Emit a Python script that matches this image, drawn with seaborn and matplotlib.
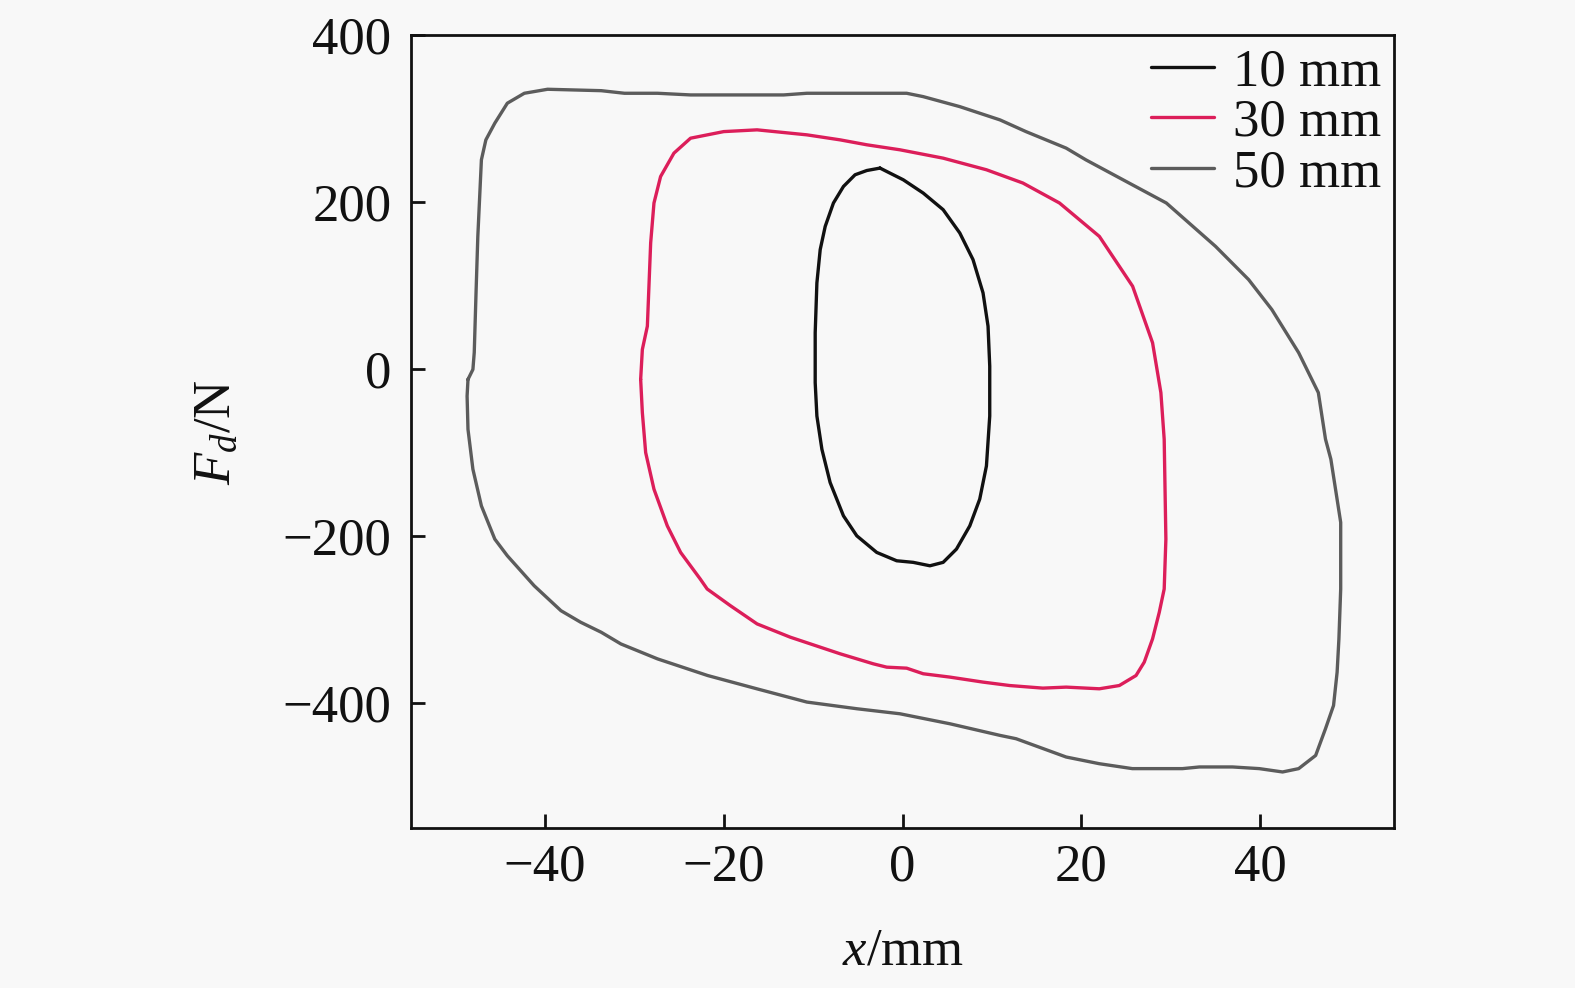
import numpy as np
import pandas as pd
import matplotlib
matplotlib.use("Agg")
import matplotlib.pyplot as plt
import seaborn as sns

# ---- data (x in mm, F_d in N), loops traced clockwise ----
x_10 = [-2.52, -4.00, -5.31, -6.61, -7.73, -8.65, -9.21, -9.58, -9.77, -9.77, -9.58, -9.02,
        -8.10, -6.61, -5.12, -2.89, -0.66, 1.19, 3.06, 4.54, 6.03, 7.52, 8.63, 9.38, 9.75,
        9.75, 9.56, 9.00, 7.88, 6.40, 4.54, 2.31, 0.08, -1.41]
f_10 = [240.6, 237.7, 232.6, 218.6, 198.8, 170.8, 143.0, 103.1, 43.4, -16.4, -56.3, -96.1,
        -135.9, -175.8, -199.7, -219.6, -229.6, -231.5, -235.6, -231.5, -215.6, -187.8, -155.8,
        -116.1, -56.3, 3.5, 51.3, 91.2, 131.0, 162.9, 190.8, 210.7, 226.6, 234.6]

x_30 = [-29.29, -29.10, -28.54, -28.17, -27.80, -27.06, -25.57, -23.71, -20.00, -16.27, -10.69,
        -6.98, -4.00, -0.29, 4.54, 9.38, 13.46, 17.55, 22.01, 25.73, 27.96, 28.89, 29.26, 29.45,
        29.26, 28.71, 27.96, 27.03, 26.11, 24.24, 22.01, 18.30, 15.69, 11.98, 9.00, 5.29, 2.31,
        0.46, -1.77, -3.27, -6.98, -12.56, -16.27, -19.25, -21.85, -22.63, -24.82, -26.31,
        -27.80, -28.73, -29.10]
f_30 = [-12.4, 23.4, 51.3, 151.0, 198.8, 230.5, 258.5, 276.4, 284.3, 286.4, 280.4, 274.4, 268.5,
        262.5, 252.5, 238.6, 222.7, 198.8, 158.8, 99.1, 31.4, -28.3, -84.1, -203.7, -263.4,
        -291.3, -323.1, -351.0, -367.0, -379.0, -382.9, -380.9, -382.1, -379.0, -374.9, -368.9,
        -364.9, -358.2, -357.0, -353.0, -341.0, -321.1, -305.2, -283.4, -263.4, -251.4, -219.6,
        -187.8, -143.9, -100.0, -52.2]

x_50 = [-48.6, -48.05, -47.9, -47.7, -47.5, -47.1, -46.6, -45.6, -44.2, -42.3, -39.7, -33.7,
        -31.1, -27.4, -23.7, -13.3, -10.7, 0.46, 2.3, 6.4, 10.9, 13.8, 18.3, 20.5, 25.7, 29.5,
        35.0, 38.7, 41.3, 44.3, 46.5, 47.3, 47.9, 49.0, 49.0, 48.8, 48.6, 48.2, 47.3, 46.2, 44.3,
        42.5, 39.9, 36.9, 33.2, 31.3, 25.7, 22.0, 18.3, 12.7, 10.9, 5.3, -0.3, -5.1, -10.7,
        -16.3, -21.8, -27.4, -31.5, -33.7, -36.0, -38.2, -41.2, -44.2, -45.6, -47.1, -48.05,
        -48.6, -48.7]
f_50 = [-12.4, -0.5, 19.8, 91.2, 158.8, 250.5, 274.4, 294.4, 318.3, 330.2, 335.0, 333.3, 330.2,
        330.2, 328.2, 328.2, 330.2, 330.2, 326.2, 314.2, 298.3, 284.3, 264.5, 250.5, 220.6, 198.8,
        146.9, 107.1, 71.2, 19.5, -28.3, -84.0, -108.0, -183.7, -263.4, -323.2, -363.0, -402.9,
        -430.7, -462.7, -478.5, -482.5, -478.5, -476.5, -476.5, -478.5, -478.5, -472.6, -464.6,
        -442.7, -438.7, -424.8, -412.8, -406.8, -398.8, -382.9, -367.0, -347.1, -329.2, -315.2,
        -303.2, -289.4, -259.5, -223.6, -203.7, -163.9, -120.0, -72.2, -32.4]

labels = ["10 mm", "30 mm", "50 mm"]
colors = ["#111111", "#dc1e5a", "#5c5c5c"]
x_ticks = [-40, -20, 0, 20, 40]
y_ticks = [-400, -200, 0, 200, 400]

# ---- style ----
sns.set_theme(style="ticks")
bg = "#f8f8f8"
plt.rcParams["font.family"] = ["Liberation Serif", "DejaVu Serif"]
plt.rcParams["mathtext.fontset"] = "custom"
plt.rcParams["mathtext.rm"] = "Liberation Serif"
plt.rcParams["mathtext.it"] = "Liberation Serif:italic"
plt.rcParams["axes.unicode_minus"] = True

fig = plt.figure(figsize=(15.75, 9.88), dpi=100, facecolor=bg)
ax = fig.add_axes([0.2608, 0.1616, 0.6245, 0.8030])
ax.set_facecolor(bg)

series = [(x_10, f_10), (x_30, f_30), (x_50, f_50)]
for (xs, fs), lab, col in zip(series, labels, colors):
    xs_c = list(xs) + [xs[0]]
    fs_c = list(fs) + [fs[0]]
    df = pd.DataFrame({"x": xs_c, "F": fs_c})
    sns.lineplot(data=df, x="x", y="F", sort=False, estimator=None, color=col,
                 linewidth=2.4, label=lab, ax=ax)
for ln in ax.get_lines():
    ln.set_solid_joinstyle("round")

ax.set_xlim(-55, 55)
ax.set_ylim(-550, 400)
ax.set_xticks(x_ticks)
ax.set_yticks(y_ticks)

fs_pt = 38
ax.tick_params(axis="both", which="major", direction="in", length=10, width=2,
               labelsize=fs_pt, top=False, right=False, colors="#111111")
ax.tick_params(axis="x", pad=11)
ax.tick_params(axis="y", pad=14)
for sp in ax.spines.values():
    sp.set_linewidth(2)
    sp.set_color("#111111")
    sp.set_visible(True)

ax.set_xlabel("$x$/mm", fontsize=fs_pt, labelpad=26, color="#111111")
ax.set_ylabel("$F_d$/N", fontsize=fs_pt, labelpad=30, color="#111111")

leg = ax.legend(loc="upper right", frameon=False, fontsize=fs_pt, handlelength=1.2,
                handletextpad=0.35, labelspacing=0.05, borderaxespad=0.15,
                borderpad=0.1)
for line in leg.get_lines():
    line.set_linewidth(2.4)
for t in leg.get_texts():
    t.set_color("#111111")

fig.savefig("out.png", dpi=100, facecolor=bg)
